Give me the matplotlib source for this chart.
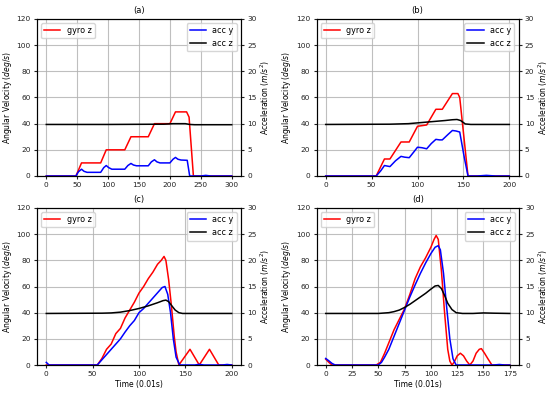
import numpy as np
import matplotlib
matplotlib.use("Agg")
import matplotlib.pyplot as plt

# ---------- data (a) ----------
a_gx = [0, 48, 57, 88, 97, 127, 137, 165, 175, 200, 209, 227, 231, 238, 300]
a_gy = [0, 0, 10, 10, 20, 20, 30, 30, 40, 40, 49, 49, 45, 0, 0]
a_yx = [0, 48, 52, 57, 61, 66, 88, 93, 97, 101, 106, 127, 132, 137, 141, 146, 165, 170, 175, 179, 184, 200, 205, 209, 213, 218, 228, 232, 250, 258, 266, 300]
a_yy = [0, 0, 0.8, 1.3, 0.9, 0.7, 0.7, 1.6, 2.0, 1.6, 1.3, 1.3, 2.0, 2.4, 2.1, 1.95, 1.95, 2.7, 3.1, 2.7, 2.5, 2.5, 3.2, 3.55, 3.2, 3.05, 3.0, 0, 0, 0.12, 0, 0]
a_zx = [0, 100, 190, 205, 225, 232, 240, 300]
a_zy = [9.85, 9.85, 9.9, 10.0, 10.0, 9.85, 9.8, 9.8]

# ---------- data (b) ----------
b_gx = [0, 55, 64, 70, 82, 91, 100, 110, 120, 127, 138, 144, 146, 155, 200]
b_gy = [0, 0, 13, 13, 26, 26, 38, 39, 51, 51, 63, 63, 60, 0, 0]
b_yx = [0, 55, 60, 64, 67, 70, 76, 82, 86, 91, 96, 100, 105, 110, 115, 120, 124, 127, 133, 138, 142, 146, 151, 155, 165, 175, 185, 200]
b_yy = [0, 0, 1.0, 2.0, 1.9, 1.8, 2.9, 3.75, 3.6, 3.5, 4.6, 5.5, 5.4, 5.2, 6.2, 7.0, 6.9, 6.9, 7.9, 8.7, 8.6, 8.4, 3.5, 0, 0, 0.12, 0, 0]
b_zx = [0, 70, 90, 100, 110, 120, 130, 138, 143, 147, 152, 158, 200]
b_zy = [9.85, 9.9, 10.0, 10.15, 10.3, 10.45, 10.6, 10.75, 10.8, 10.6, 9.95, 9.85, 9.85]

# ---------- data (c) ----------
c_gx = [0, 55, 60, 65, 70, 75, 80, 85, 90, 95, 100, 105, 110, 115, 120, 124, 127, 129, 132, 135, 138, 140, 143, 155, 165, 176, 186, 200]
c_gy = [0, 0, 5, 12, 16, 24, 28, 36, 42, 48, 55, 60, 66, 71, 77, 80, 83, 80, 65, 45, 22, 10, 0, 12, 0, 12, 0, 0]
c_yx = [0, 3, 10, 55, 60, 65, 70, 75, 80, 85, 90, 95, 100, 105, 110, 115, 120, 125, 128, 131, 134, 137, 140, 144, 160, 165, 170, 190, 195, 200]
c_yy = [0.5, 0, 0, 0, 1.0, 2.0, 3.0, 4.0, 5.0, 6.3, 7.5, 8.5, 10.0, 10.8, 11.8, 12.8, 13.8, 14.8, 15.0, 13.5, 10.0, 5.0, 1.5, 0, 0, 0.12, 0, 0, 0.1, 0]
c_zx = [0, 60, 70, 80, 90, 100, 110, 120, 126, 129, 132, 135, 139, 143, 147, 200]
c_zy = [9.85, 9.9, 9.95, 10.1, 10.4, 10.8, 11.3, 11.9, 12.3, 12.4, 12.1, 11.4, 10.5, 10.0, 9.85, 9.85]

# ---------- data (d) ----------
d_gx = [0, 3, 6, 48, 52, 56, 60, 65, 70, 75, 80, 85, 90, 95, 100, 103, 105, 107, 110, 113, 116, 118, 120, 122, 125, 128, 131, 134, 137, 140, 143, 146, 148, 151, 154, 158, 175]
d_gy = [4.5, 2, 0, 0, 2, 9, 17, 27, 35, 43, 54, 66, 75, 82, 90, 96, 99, 96, 72, 40, 12, 3, 0, 2, 7, 9, 7, 3, 0, 3, 9, 12, 12.5, 9, 5, 0, 0]
d_yx = [0, 3, 6, 9, 50, 53, 56, 60, 65, 70, 75, 80, 85, 90, 95, 100, 104, 107, 109, 112, 115, 118, 121, 124, 160, 165, 170, 175]
d_yy = [1.25, 0.8, 0.3, 0, 0, 0.5, 1.5, 3.0, 5.5, 8.0, 10.5, 13.0, 15.3, 17.5, 19.5, 21.3, 22.5, 22.8, 22.0, 17.5, 11.0, 5.0, 1.2, 0, 0, 0.1, 0, 0]
d_zx = [0, 50, 60, 65, 70, 75, 80, 85, 90, 95, 100, 104, 107, 110, 113, 116, 120, 124, 130, 140, 150, 160, 175]
d_zy = [9.85, 9.85, 10.0, 10.2, 10.5, 11.0, 11.6, 12.3, 13.0, 13.7, 14.5, 15.1, 15.2, 14.6, 13.3, 11.8, 10.6, 10.0, 9.85, 9.85, 9.95, 9.9, 9.85]

titles = ["(a)", "(b)", "(c)", "(d)"]
panels = [
    (a_gx, a_gy, a_yx, a_yy, a_zx, a_zy, np.arange(0, 301, 50)),
    (b_gx, b_gy, b_yx, b_yy, b_zx, b_zy, np.arange(0, 201, 50)),
    (c_gx, c_gy, c_yx, c_yy, c_zx, c_zy, np.arange(0, 201, 50)),
    (d_gx, d_gy, d_yx, d_yy, d_zx, d_zy, np.arange(0, 176, 25)),
]
xlabels = [None, None, "Time (0.01s)", "Time (0.01s)"]

fs_tick = 5.3
fs_lab = 5.5
fs_leg = 5.8
plt.rcParams['font.family'] = ['DejaVu Sans']
fig = plt.figure(figsize=(5.5, 3.95), dpi=100)
W, H = 550, 395
boxes = [(37, 19, 241, 176), (316.5, 19, 518.5, 176), (37, 208, 241, 365), (316.5, 208, 519, 365)]

for i, (gx, gy, yx, yy, zx, zy, xt) in enumerate(panels):
    l, t, r, b = boxes[i]
    ax = fig.add_axes([l / W, 1 - b / H, (r - l) / W, (b - t) / H])
    ax2 = ax.twinx()
    ax.plot(gx, gy, color='red', lw=1.1, label='gyro z')
    ax2.plot(yx, yy, color='blue', lw=1.1, label='acc y')
    ax2.plot(zx, zy, color='black', lw=1.1, label='acc z')
    ax.set_ylim(0, 120)
    ax2.set_ylim(0, 30)
    ax.set_yticks(np.arange(0, 121, 20))
    ax2.set_yticks(np.arange(0, 31, 5))
    ax.set_xticks(xt)
    pad = (xt[-1] - xt[0]) * 0.05
    ax.set_xlim(xt[0] - pad, xt[-1] + pad)
    ax.grid(True, color='#b0b0b0', lw=0.8, alpha=0.8)
    ax.tick_params(labelsize=fs_tick, colors='#222222', length=2.5, pad=2)
    ax2.tick_params(labelsize=fs_tick, colors='#222222', length=2.5, pad=2)
    for sp in list(ax.spines.values()) + list(ax2.spines.values()):
        sp.set_color('black')
        sp.set_linewidth(0.8)
    ax.set_title(titles[i], fontsize=6, pad=4)
    ax.set_ylabel(r"Angular Velocity ($deg/s$)", fontsize=fs_lab, labelpad=2)
    ax2.set_ylabel(r"Acceleration ($m/s^2$)", fontsize=fs_lab, labelpad=1.5)
    if xlabels[i]:
        ax.set_xlabel(xlabels[i], fontsize=fs_lab, labelpad=2)
    ax.legend(loc='upper left', fontsize=fs_leg, handlelength=2.0, borderaxespad=0.5)
    ax2.legend(loc='upper right', fontsize=fs_leg, handlelength=2.0, borderaxespad=0.5)

fig.savefig("out.png", dpi=100)
